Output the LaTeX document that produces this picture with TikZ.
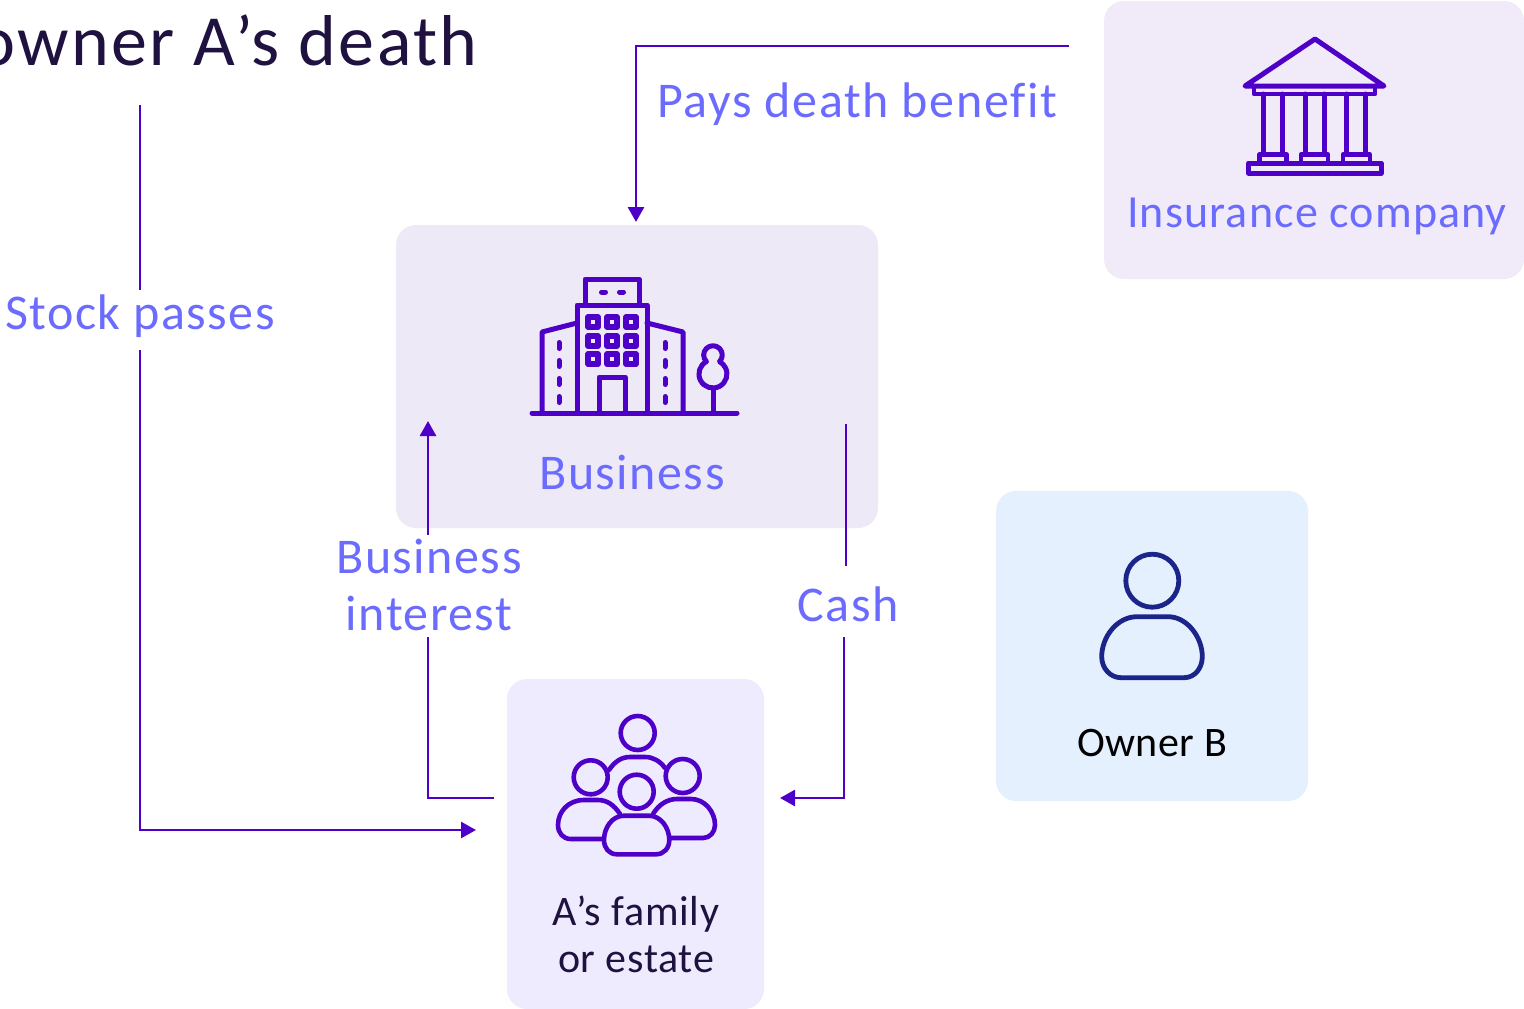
\documentclass[tikz,border=0pt]{standalone}
\usepackage{fontspec}
\setmainfont{Carlito}[Ligatures=NoCommon]
\usetikzlibrary{arrows.meta}
\definecolor{arrowc}{HTML}{4F00C8}
\definecolor{labelc}{HTML}{6B6BFF}
\definecolor{titlec}{HTML}{1F1240}
\definecolor{navyc}{HTML}{1B2488}
\definecolor{boxa}{HTML}{F0EAF9}
\definecolor{boxb}{HTML}{EDE9F7}
\definecolor{boxc}{HTML}{EDEBFD}
\definecolor{boxd}{HTML}{E4F0FE}
\newcommand{\lblfont}{\fontsize{50}{57}\selectfont\addfontfeature{LetterSpace=3}}
\tikzset{
  panel/.style={rounded corners=20pt,inner sep=0pt,outer sep=0pt},
  flow/.style={draw=arrowc,line width=2.8pt,-{Triangle[length=15pt,width=16pt]}},
  flowlabel/.style={text=labelc,font=\lblfont,inner sep=0pt,align=center},
  boxlabel/.style={text=labelc,font=\lblfont,inner sep=0pt},
  icon/.style={draw=arrowc,line width=5pt,line join=round,line cap=round},
  iconthin/.style={draw=arrowc,line width=4.6pt,line join=round,line cap=round},
  person/.style={draw=navyc,line width=4.8pt,line join=round,line cap=round},
}
\begin{document}
\begin{tikzpicture}[x=1pt,y=1pt,yscale=-1]
\useasboundingbox (0,0) rectangle (1524,1009);
\clip (0,0) rectangle (1524,1009);
\fill[white] (0,0) rectangle (1524,1009);
% panels
\fill[boxa,panel] (1104,1) rectangle (1524,279);
\fill[boxb,panel] (396,225) rectangle (878,528);
\fill[boxc,panel] (507,679) rectangle (764,1009);
\fill[boxd,panel] (996,491) rectangle (1308,801);
\coordinate (insout) at (1069,46);
\coordinate (insbend) at (636,46);
\coordinate (busin) at (636,222);
\coordinate (stockstart) at (140,105);
\coordinate (stockbend) at (140,830);
\coordinate (famstock) at (476,830);
\coordinate (famout) at (494,798);
\coordinate (intbend) at (428,798);
\coordinate (busintin) at (428,421);
\coordinate (busout) at (846,424);
\coordinate (cashjog) at (846,600);
\coordinate (cashjogb) at (844,600);
\coordinate (cashbend) at (844,798);
\coordinate (famin) at (780,798);
\draw[flow] (insout) -- (insbend) -- (busin);
\draw[flow] (stockstart) -- (stockbend) -- (famstock);
\draw[flow] (famout) -- (intbend) -- (busintin);
\draw[flow] (busout) -- (cashjog) -- (cashjogb) -- (cashbend) -- (famin);
% white gaps behind the labels that sit on connectors
\fill[white] (4,290) rectangle (276,350);
\fill[white] (336,535) rectangle (522,637);
\fill[white] (797,566) rectangle (899,637);
% texts
\node[text=titlec,font=\fontsize{72}{80}\selectfont\addfontfeature{LetterSpace=3.5},anchor=base east,inner sep=0pt] (title) at (478,65) {owner A’s death};
\node[boxlabel,anchor=base west,font=\fontsize{50}{57}\selectfont\addfontfeature{LetterSpace=3.3}] (lblpays) at (657,117) {Pays death benefit};
\node[boxlabel,anchor=base] (lblstock) at (140,329) {Stock passes};
\node[flowlabel,anchor=center] (lblint) at (429,585) {Business\\interest};
\node[boxlabel,anchor=base] (lblcash) at (848,621) {Cash};
\node[boxlabel,anchor=base] (lblbus) at (632,489) {Business};
\node[text=labelc,font=\fontsize{46}{52}\selectfont\addfontfeature{LetterSpace=2.5},anchor=base,inner sep=0pt] (lblins) at (1317,227) {Insurance company};
\node[text=titlec,font=\fontsize{42}{47}\selectfont\addfontfeature{LetterSpace=1.7},align=center,inner sep=0pt,anchor=center] (lblfam) at (636,934.5) {A’s family\\or estate};
\node[text=black,font=\fontsize{42}{47}\selectfont\addfontfeature{LetterSpace=1},anchor=base,inner sep=0pt] (lblb) at (1152,756) {Owner B};
% building
\begin{scope}[icon]
\draw (532,413) -- (737,413);
\draw (585,305) -- (585,279) -- (639,279) -- (639,305);
\draw (577,413) -- (577,305) -- (647,305) -- (647,413);
\draw (542,413) -- (542,332) -- (577,323);
\draw (683,413) -- (683,332) -- (647,323);
\draw (599,413) -- (599,377) -- (625,377) -- (625,413);
\foreach \wx in {593,612,631}{\foreach \wy in {322,341,359}{
  \draw[line width=5.6pt] (\wx-5,\wy-5) rectangle (\wx+5,\wy+5);}}
\draw (601.5,292) -- (605.5,292) (619.5,292) -- (623.5,292);
\foreach \dx in {559,665}{
  \draw (\dx,342.5) -- (\dx,348.5) (\dx,360.5) -- (\dx,366.5) (\dx,378.5) -- (\dx,384.5) (\dx,396.5) -- (\dx,402.5);}
\draw (713,390) -- (713,413);
\draw (719.55,361.6) arc[start angle=45,end angle=-225,radius=9.3]
      arc[start angle=-117.8,end angle=-422.2,radius=14] -- cycle;
\end{scope}
% bank
\begin{scope}[icon]
\draw (1315,39) -- (1245,86) -- (1384,86) -- cycle;
\draw[line width=4.4pt] (1254,86) -- (1254,94) -- (1375,94) -- (1375,86);
\foreach \cx in {1263.3,1282.3,1305,1324,1346.7,1365.7}{\draw (\cx,94) -- (\cx,154);}
\foreach \px in {1259.5,1301,1342.7}{\draw[line width=4.4pt] (\px,162) -- (\px,154.5) -- (\px+27,154.5) -- (\px+27,162);}
\draw (1248.3,163) rectangle (1381,173);
\end{scope}
% family
\begin{scope}[iconthin]
\draw (637.7,733) circle[radius=17];
\draw (590.7,777.3) circle[radius=17];
\draw (682.7,776) circle[radius=17];
\draw (636.7,791.7) circle[radius=17];
\draw (609,770) .. controls (615,761) and (622,757) .. (630,757) -- (645,757) .. controls (653,757) and (660,761) .. (665,768);
\draw (620,814) .. controls (614,805) and (607,800) .. (598,800) -- (584,800) .. controls (568,800) and (558,812) .. (558,825) .. controls (558,833) and (563,839) .. (571,839) -- (602,839);
\draw (653,814) .. controls (659,804) and (668,799) .. (677,799) -- (691,799) .. controls (705,799) and (715,812) .. (715,825) .. controls (715,832) and (710,838) .. (703,838) -- (670,838);
\draw (624,815.7) -- (649,815.7) .. controls (661,815.7) and (669.3,828) .. (669.3,840) .. controls (669.3,848) and (664,854.3) .. (656,854.3) -- (617,854.3) .. controls (609,854.3) and (604,848) .. (604,840) .. controls (604,828) and (612,815.7) .. (624,815.7) -- cycle;
\end{scope}
% owner B
\draw[person] (1152.3,580.7) circle[radius=26.5];
\draw[person] (1137,616.7) -- (1168,616.7) .. controls (1187,616.7) and (1202.3,637) .. (1202.3,656.7) .. controls (1202.3,668) and (1195,677.7) .. (1184,677.7) -- (1121,677.7) .. controls (1110,677.7) and (1101.7,668) .. (1101.7,656.7) .. controls (1101.7,637) and (1117,616.7) .. (1137,616.7) -- cycle;
\end{tikzpicture}
\end{document}
